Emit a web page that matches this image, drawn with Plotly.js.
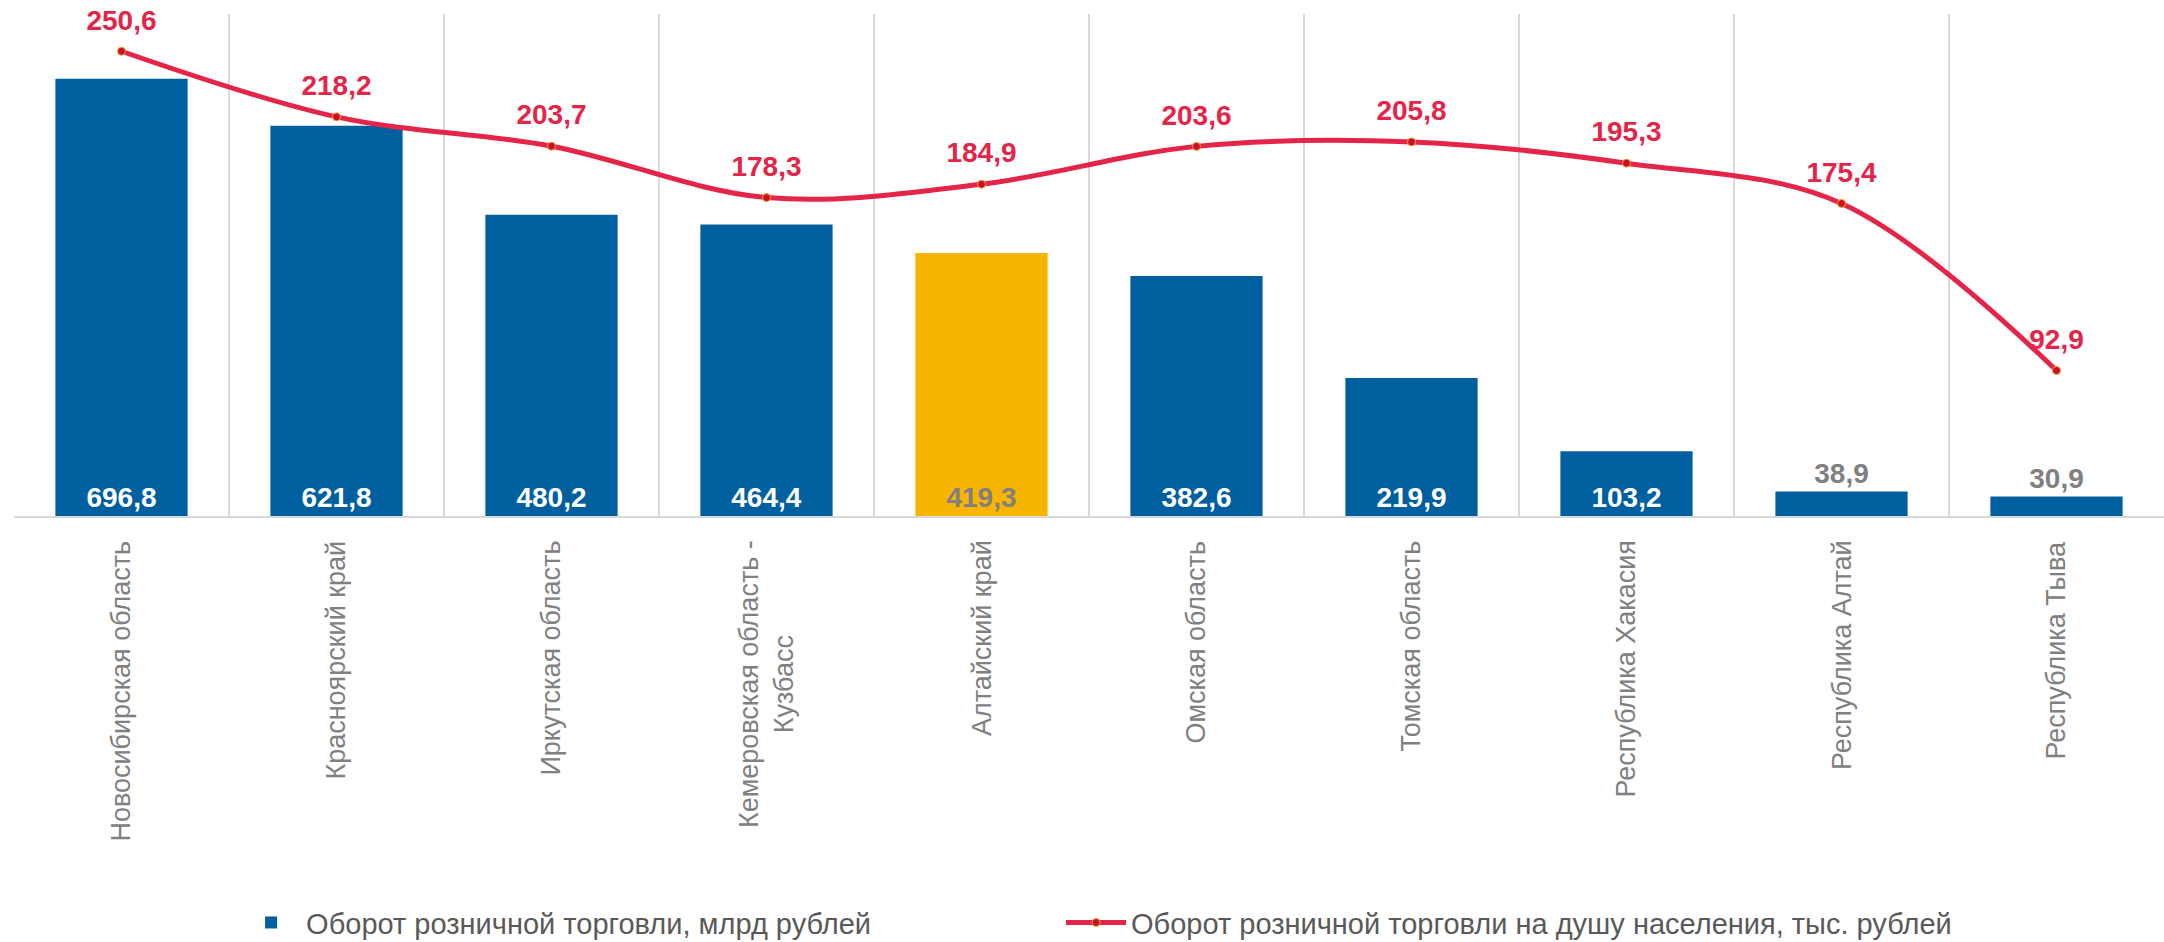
<!DOCTYPE html>
<html>
<head>
<meta charset="utf-8">
<script src="https://cdn.plot.ly/plotly-3.0.1.min.js"></script>
<style>
  html, body { margin: 0; padding: 0; background: #fff; }
  #chart { width: 2164px; height: 942px; }
</style>
</head>
<body>
<div id="chart"></div>
<script>
// регионы и значения
const regions = [
    'Новосибирская область',
    'Красноярский край',
    'Иркутская область',
    'Кемеровская область -<br>Кузбасс',
    'Алтайский край',
    'Омская область',
    'Томская область',
    'Республика Хакасия',
    'Республика Алтай',
    'Республика Тыва'
];
const turnover = [696.8, 621.8, 480.2, 464.4, 419.3, 382.6, 219.9, 103.2, 38.9, 30.9];
const perCapita = [250.6, 218.2, 203.7, 178.3, 184.9, 203.6, 205.8, 195.3, 175.4, 92.9];
const highlightRegion = 'Алтайский край';

const barName = 'Оборот розничной торговли, млрд рублей';
const lineName = 'Оборот розничной торговли на душу населения, тыс. рублей';

const narrow = '"Liberation Sans Narrow", "Arial Narrow", "Liberation Sans", Arial, sans-serif';
const regular = '"Liberation Sans", Arial, sans-serif';

function fmt(v) {
    return v.toFixed(1).replace('.', ',');
}

let barColors = regions.map(r => r === highlightRegion ? '#F8B500' : '#00609F');
let barTextPos = turnover.map(v => v < 60 ? 'outside' : 'inside');
let barTextColors = regions.map((r, i) => (r === highlightRegion || turnover[i] < 60) ? '#808080' : '#FFFFFF');

let data = [{
    x: regions,
    y: turnover,
    type: 'bar',
    name: barName,
    marker: { color: barColors },
    text: turnover.map(fmt),
    textposition: barTextPos,
    insidetextanchor: 'start',
    textangle: 0,
    textfont: { family: narrow, size: 28, color: barTextColors, weight: 'bold' },
    cliponaxis: false,
    legend: 'legend'
}, {
    x: regions,
    y: perCapita,
    type: 'scatter',
    mode: 'lines+markers',
    name: lineName,
    yaxis: 'y2',
    line: { color: '#E42448', width: 5, shape: 'spline', smoothing: 1 },
    marker: { color: '#C8102E', size: 8, line: { color: '#F5A623', width: 1 } },
    cliponaxis: false,
    legend: 'legend2'
}, {
    // подписи значений линии (невидимые маркеры дают отступ)
    x: regions,
    y: perCapita,
    type: 'scatter',
    mode: 'markers+text',
    yaxis: 'y2',
    showlegend: false,
    marker: { size: 22, opacity: 0 },
    text: perCapita.map(fmt),
    textposition: 'top center',
    textfont: { family: narrow, size: 28, color: '#E42448', weight: 'bold' },
    cliponaxis: false
}];

// подписи категорий - повёрнутые аннотации
let labelAnnotations = regions.map(r => ({
    x: r,
    y: -0.045,
    xref: 'x',
    yref: 'paper',
    text: r,
    showarrow: false,
    textangle: -90,
    yanchor: 'top',
    xanchor: 'center',
    align: 'center',
    font: { family: regular, size: 27, color: '#808080' }
}));

let legendFont = { family: narrow, size: 29, color: '#595959' };

let layout = {
    width: 2164,
    height: 942,
    margin: { l: 14, r: 0, t: 14, b: 426, autoexpand: false },
    paper_bgcolor: '#FFFFFF',
    plot_bgcolor: '#FFFFFF',
    bargap: 0.385,
    showlegend: true,
    xaxis: {
        type: 'category',
        range: [-0.5, 9.5],
        tickson: 'boundaries',
        showgrid: true,
        gridcolor: '#D9D9D9',
        gridwidth: 1.5,
        showline: true,
        linecolor: '#D9D9D9',
        linewidth: 2,
        ticks: '',
        showticklabels: false,
        fixedrange: true
    },
    yaxis: {
        range: [0, 800],
        showgrid: false,
        zeroline: false,
        showticklabels: false,
        ticks: '',
        fixedrange: true
    },
    yaxis2: {
        range: [21, 269],
        overlaying: 'y',
        side: 'right',
        showgrid: false,
        zeroline: false,
        showticklabels: false,
        ticks: '',
        fixedrange: true
    },
    legend: {
        orientation: 'h',
        x: 0.1033,
        xanchor: 'left',
        y: -0.81,
        yanchor: 'middle',
        itemwidth: 60,
        font: legendFont
    },
    legend2: {
        orientation: 'h',
        x: 0.487,
        xanchor: 'left',
        y: -0.81,
        yanchor: 'middle',
        itemwidth: 60,
        font: legendFont
    },
    annotations: labelAnnotations
};

Plotly.newPlot('chart', data, layout, { displayModeBar: false, staticPlot: true });
</script>
</body>
</html>
